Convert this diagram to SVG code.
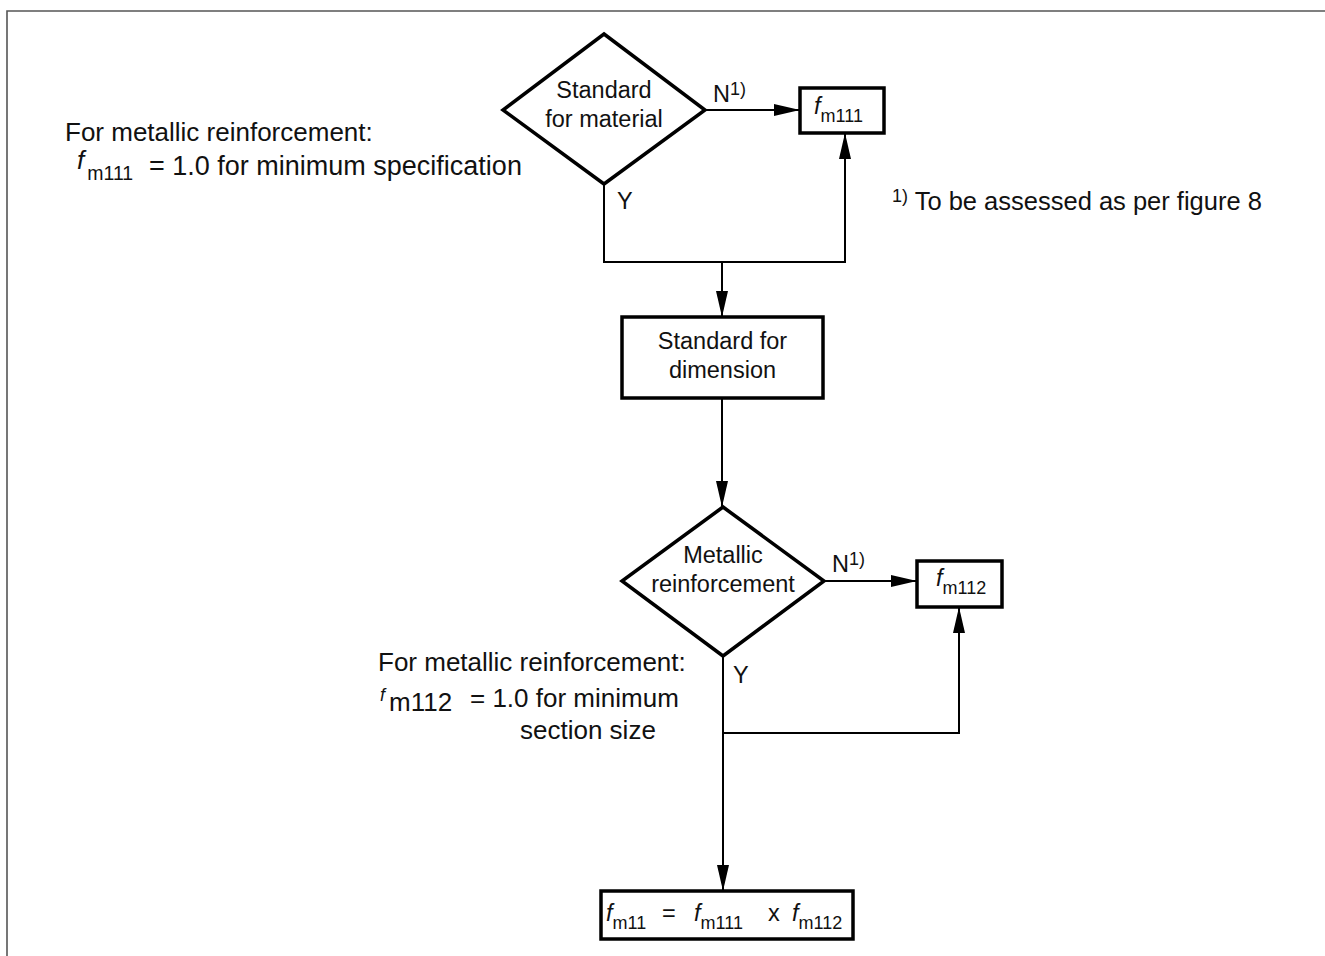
<svg xmlns="http://www.w3.org/2000/svg" width="1325" height="956" viewBox="0 0 1325 956">
  <defs>
    <marker id="arrow" viewBox="0 0 26 12" refX="26" refY="6" markerWidth="26" markerHeight="12" markerUnits="userSpaceOnUse" orient="auto">
      <path d="M0,0 L26,6 L0,12 Z" fill="#000"/>
    </marker>
    <style>
      text { font-family: "Liberation Sans", Arial, sans-serif; fill: #111; }
      .lbl { font-size: 23.5px; }
      .note { font-size: 26px; }
      .foot { font-size: 25.5px; }
      .sub { font-size: 18px; }
      .sup { font-size: 18px; }
      .it { font-style: italic; }
      .shape { fill: #fff; stroke: #000; stroke-width: 3.5; stroke-linejoin: miter; }
      .wire { fill: none; stroke: #000; stroke-width: 2; }
      .frame { fill: none; stroke: #555; stroke-width: 1.6; }
    </style>
  </defs>
  <rect width="1325" height="956" fill="#fff"/>

  <!-- page frame -->
  <path class="frame" d="M7,956 L7,11 L1325,11"/>

  <!-- connectors -->
  <g id="connectors">
    <line class="wire" x1="705" y1="110" x2="800" y2="110" marker-end="url(#arrow)"/>
    <polyline class="wire" points="604,184 604,262 845,262 845,133" marker-end="url(#arrow)"/>
    <line class="wire" x1="722" y1="262" x2="722" y2="317" marker-end="url(#arrow)"/>
    <line class="wire" x1="722" y1="398" x2="722" y2="507" marker-end="url(#arrow)"/>
    <line class="wire" x1="824" y1="581" x2="917" y2="581" marker-end="url(#arrow)"/>
    <polyline class="wire" points="723,656 723,733 959,733 959,607" marker-end="url(#arrow)"/>
    <line class="wire" x1="723" y1="733" x2="723" y2="891" marker-end="url(#arrow)"/>
    <text class="lbl" x="713" y="102">N<tspan class="sup" dy="-7">1)</tspan></text>
    <text class="lbl" x="617" y="209">Y</text>
    <text class="lbl" x="832" y="572">N<tspan class="sup" dy="-7">1)</tspan></text>
    <text class="lbl" x="733" y="683">Y</text>
  </g>

  <!-- decision: material standard -->
  <g id="dec-material">
    <polygon class="shape" points="604,34 705,110 604,184 503,110"/>
    <text class="lbl" x="604" y="98" text-anchor="middle">Standard</text>
    <text class="lbl" x="604" y="127" text-anchor="middle">for material</text>
  </g>

  <!-- result f_m111 -->
  <g id="box-fm111">
    <rect class="shape" x="800" y="88" width="84" height="45"/>
    <text class="lbl" x="814" y="114"><tspan class="it">f</tspan><tspan class="sub" dy="8">m111</tspan></text>
  </g>

  <!-- process: dimension standard -->
  <g id="box-dimension">
    <rect class="shape" x="622" y="317" width="201" height="81"/>
    <text class="lbl" x="722.5" y="349" text-anchor="middle">Standard for</text>
    <text class="lbl" x="722.5" y="378" text-anchor="middle">dimension</text>
  </g>

  <!-- decision: metallic reinforcement -->
  <g id="dec-metallic">
    <polygon class="shape" points="723,507 824,581 723,656 622,581"/>
    <text class="lbl" x="723" y="563" text-anchor="middle">Metallic</text>
    <text class="lbl" x="723" y="592" text-anchor="middle">reinforcement</text>
  </g>

  <!-- result f_m112 -->
  <g id="box-fm112">
    <rect class="shape" x="917" y="561" width="85" height="46"/>
    <text class="lbl" x="936" y="586"><tspan class="it">f</tspan><tspan class="sub" dy="8">m112</tspan></text>
  </g>

  <!-- final product -->
  <g id="box-fm11">
    <rect class="shape" x="601" y="891" width="252" height="48"/>
    <text class="lbl" x="606" y="921"><tspan class="it">f</tspan><tspan class="sub" dy="8">m11</tspan></text>
    <text class="lbl" x="662" y="921">=</text>
    <text class="lbl" x="694" y="921"><tspan class="it">f</tspan><tspan class="sub" dy="8">m111</tspan></text>
    <text class="lbl" x="768" y="921">x</text>
    <text class="lbl" x="792" y="921"><tspan class="it">f</tspan><tspan class="sub" dy="8">m112</tspan></text>
  </g>

  <!-- notes -->
  <g id="note-material">
    <text class="note" x="65" y="141">For metallic reinforcement:</text>
    <text class="note" x="77" y="169"><tspan class="it">f</tspan><tspan class="sub" style="font-size:19.5px" dx="3" dy="11">m111</tspan></text>
    <text class="note" x="149" y="175" style="font-size:27px">= 1.0 for minimum specification</text>
  </g>

  <g id="note-footnote">
    <text class="foot" x="892" y="210"><tspan class="sup" dy="-8">1)</tspan><tspan dy="8"> To be assessed as per figure 8</tspan></text>
  </g>

  <g id="note-metallic">
    <text class="note" x="378" y="671">For metallic reinforcement:</text>
    <text class="note" x="380" y="701"><tspan class="it" style="font-size:18px">f</tspan><tspan dx="4" dy="10">m112</tspan></text>
    <text class="note" x="470" y="707">= 1.0 for minimum</text>
    <text class="note" x="520" y="739">section size</text>
  </g>
</svg>
